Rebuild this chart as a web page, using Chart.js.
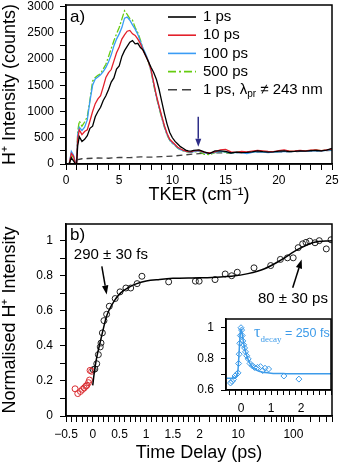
<!DOCTYPE html>
<html lang="en">
<head>
  <meta charset="UTF-8" />
  <title>H+ TKER spectra and time delay</title>
  <script src="https://cdn.jsdelivr.net/npm/chart.js@4.4.3/dist/chart.umd.min.js"></script>
  <style>
    body { margin: 0; background: #ffffff; }
    .wrap { position: relative; width: 340px; height: 465px; }
    canvas { position: absolute; }
    #topChart { left: 0; top: 0; }
    #botChart { left: 0; top: 206px; }
    #insetChart { left: 196px; top: 311px; }
  </style>
</head>
<body>
  <div class="wrap">
    <canvas id="topChart" width="340" height="206"></canvas>
    <canvas id="botChart" width="340" height="259"></canvas>
    <canvas id="insetChart" width="140" height="110"></canvas>
  </div>

  <script>
    // ---- panel a): H+ TKER spectra (counts)
    const tker = [0.3, 0.5, 0.7, 0.9, 1.0, 1.1, 1.25, 1.5, 1.75,
      2.0, 2.25, 2.5, 2.75, 3.0, 3.25, 3.5, 3.75, 4.0, 4.25, 4.5, 4.75, 5.0, 5.25, 5.5, 5.75,
      6.0, 6.25, 6.5, 6.75, 7.0, 7.25, 7.5, 7.75, 8.0, 8.25, 8.5, 8.75, 9.0, 9.25, 9.5, 9.75,
      10.0, 10.25, 10.5, 10.75, 11.0, 11.25, 11.5, 11.75, 12.0,
      12.5, 13, 13.5, 14, 14.5, 15, 15.5, 16, 16.5, 17, 17.5, 18, 18.5, 19, 19.5,
      20, 20.5, 21, 21.5, 22, 22.5, 23, 23.5, 24, 24.5, 25];

    const ps1 = [0, 120, 60, 0, 10, 350, 520, 430, 470,
      540, 680, 720, 900, 1000, 1080, 1210, 1300, 1420, 1560, 1640, 1810, 1870, 2050, 2160, 2240,
      2320, 2350, 2290, 2300, 2220, 2170, 2060, 1950, 1840, 1740, 1610, 1420, 1190, 960, 760, 600,
      500, 430, 380, 330, 300, 265, 250, 245, 260,
      270, 230, 200, 250, 250, 240, 210, 225, 215, 220, 230, 250, 235, 225, 230,
      245, 250, 235, 240, 250, 245, 255, 260, 250, 265, 300];

    const ps10 = [0, 200, 150, 0, 20, 480, 650, 560, 620,
      650, 820, 1000, 1150, 1240, 1300, 1470, 1650, 1740, 1800, 1960, 2120, 2230, 2380, 2460, 2530,
      2545, 2480, 2450, 2380, 2290, 2160, 2060, 1950, 1790, 1540, 1300, 1100, 910, 730, 580, 470,
      420, 370, 320, 290, 265, 245, 235, 230, 250,
      260, 220, 210, 230, 270, 280, 230, 220, 240, 230, 245, 260, 250, 240, 235,
      255, 270, 245, 250, 260, 250, 265, 270, 255, 270, 285];

    const ps100 = [0, 240, 170, 20, 40, 560, 700, 640, 700,
      840, 1200, 1500, 1620, 1660, 1700, 1760, 1840, 1950, 2080, 2250, 2380, 2480, 2600, 2780, 2800,
      2740, 2650, 2570, 2470, 2330, 2200, 2090, 1960, 1770, 1520, 1280, 1080, 890, 710, 560, 455,
      400, 355, 305, 275, 255, 240, 230, 220, 235,
      250, 210, 200, 220, 240, 230, 210, 220, 215, 200, 220, 235, 225, 215, 225,
      230, 240, 235, 240, 245, 240, 250, 255, 250, 260, 270];

    const ps500 = [0, 160, 120, 10, 60, 620, 820, 720, 800,
      900, 1220, 1580, 1650, 1690, 1720, 1810, 1900, 2050, 2200, 2350, 2480, 2600, 2760, 2920, 2850,
      2770, 2740, 2600, 2500, 2360, 2180, 2080, 1940, 1760, 1500, 1270, 1060, 880, 700, 550, 450,
      395, 350, 300, 270, 250, 235, 225, 220, 230,
      240, 185, 180, 215, 235, 220, 200, 225, 230, 215, 230, 240, 230, 220, 230,
      240, 250, 240, 245, 255, 245, 260, 265, 255, 265, 280];

    // 1 ps, probe off resonance
    const offTker = [1.0, 1.5, 2, 3, 4, 5, 6, 7, 8, 9, 10, 11, 12, 13, 14, 15, 16, 17, 18, 19, 20, 21, 22, 23, 24, 25];
    const offCounts = [80, 100, 105, 115, 110, 125, 120, 135, 130, 140, 150, 170, 190, 205, 210, 212, 215, 220, 225, 225, 230, 235, 240, 245, 250, 260];

    const tkerTicks = [0, 5, 10, 15, 20, 25];
    const countTicks = [0, 500, 1000, 1500, 2000, 2500, 3000];

    // ---- panel b): normalised H+ signal vs pump-probe delay (ps)
    const redDelay = [-0.33, -0.28, -0.23, -0.19, -0.16, -0.13, -0.11, -0.08, -0.06, -0.05, -0.02];
    const redSignal = [0.155, 0.128, 0.14, 0.152, 0.16, 0.17, 0.175, 0.19, 0.205, 0.26, 0.255];

    const blackDelay = [0.01, 0.04, 0.075, 0.105, 0.14, 0.155, 0.18, 0.21, 0.26, 0.31,
      0.42, 0.51, 0.62, 0.71, 0.83, 0.92, 1.42, 1.92, 1.99,
      3.8, 5.8, 7.6, 9.6, 19.3, 38.7, 58, 78, 99, 122, 147, 169, 197, 246, 294, 394, 480];
    const blackSignal = [0.264, 0.268, 0.298, 0.35, 0.394, 0.416, 0.474, 0.544, 0.58, 0.626,
      0.67, 0.708, 0.73, 0.73, 0.755, 0.797, 0.765, 0.769, 0.769,
      0.778, 0.81, 0.80, 0.82, 0.845, 0.858, 0.893, 0.902, 0.902, 0.96, 0.982, 0.99, 0.997, 0.988, 1.0, 0.953, 1.005];

    const fitDelay = [0.0, 0.03, 0.06, 0.1, 0.15, 0.2, 0.25, 0.3, 0.4, 0.5, 0.6, 0.7, 0.8, 1.0, 1.25, 1.5,
      2.0, 4, 7.5, 15, 30, 60, 120, 230, 500];
    const fitSignal = [0.175, 0.25, 0.31, 0.37, 0.435, 0.50, 0.56, 0.60, 0.655, 0.695, 0.72, 0.738, 0.752, 0.77, 0.779, 0.785,
      0.788, 0.792, 0.797, 0.812, 0.84, 0.89, 0.95, 0.99, 1.0];

    const normTicks = [0, 0.2, 0.4, 0.6, 0.8, 1];
    const normTickLabels = ['0', '0.2', '0.4', '0.6', '0.8', '1'];
    const delayTicks = [-0.5, 0, 0.5, 1, 1.5, 2, 10, 100];
    const delayTickLabels = ['\u22120.5', '0', '0.5', '1', '1.5', '2', '10', '100'];
    const delayLogMinor = [3, 4, 5, 6, 7, 8, 9, 20, 30, 40, 50, 60, 70, 80, 90, 200, 300, 400, 500];

    // ---- inset: early-time signal
    const insetDelay = [-0.35, -0.3, -0.25, -0.2, -0.15, -0.1, -0.08, -0.06, -0.04, -0.02, 0.0,
      0.02, 0.04, 0.06, 0.09, 0.12, 0.15, 0.19, 0.24, 0.3, 0.38, 0.45, 0.55, 0.65, 0.72, 0.8, 0.92, 1.43, 1.93];
    const insetSignal = [0.645, 0.655, 0.668, 0.69, 0.70, 0.71, 0.77, 0.83, 0.90, 0.95, 1.0,
      0.985, 0.95, 0.915, 0.89, 0.87, 0.845, 0.82, 0.80, 0.77, 0.755, 0.745, 0.745, 0.75, 0.725, 0.74, 0.735, 0.69, 0.67];
    const insetFitDelay = [-0.5, -0.3, -0.2, -0.15, -0.1, -0.07, -0.04, -0.01, 0.01, 0.04, 0.08, 0.13, 0.2, 0.3, 0.42, 0.6, 0.8, 1.0, 1.5, 2, 3];
    const insetFitSignal = [0.675, 0.676, 0.68, 0.69, 0.73, 0.82, 0.92, 0.985, 0.99, 0.96, 0.91, 0.86, 0.815, 0.77, 0.74, 0.72, 0.712, 0.708, 0.705, 0.704, 0.704];
    const insetDelayTicks = [0, 1, 2];
    const insetNormTicks = [0.6, 0.8, 1];
    const insetNormLabels = ['0.6', '0.8', '1'];

    // ---------------------------------------------------------------
    const FONT = "'Liberation Sans', Arial, Helvetica, sans-serif";
    const SERIF = "'Liberation Serif', 'Times New Roman', serif";
    Chart.defaults.font.family = FONT;
    Chart.defaults.font.size = 12;
    Chart.defaults.color = '#000';

    // delay axis: linear up to 2 ps, logarithmic after that
    const LIN_END = 2;
    const UNITS_PER_DECADE = 1.032;
    function toAxis(t) {
      return t <= LIN_END ? t : LIN_END + UNITS_PER_DECADE * Math.log10(t / LIN_END);
    }

    function pts(xs, ys, fx) {
      return xs.map((v, i) => ({ x: fx ? fx(v) : v, y: ys[i] }));
    }

    // minor tick positions + labelled ones
    function mergeTicks(minor, labeled, labels) {
      const out = minor.map(v => ({ value: v, text: '' }));
      labeled.forEach((v, i) => {
        const hit = out.find(t => Math.abs(t.value - v) < 1e-6);
        if (hit) hit.text = labels[i];
        else out.push({ value: v, text: labels[i] });
      });
      return out.sort((a, b) => a.value - b.value);
    }
    function range(from, to, step) {
      const out = [];
      const n = Math.round((to - from) / step);
      for (let i = 0; i <= n; i++) out.push(+(from + i * step).toFixed(6));
      return out;
    }

    function axis(opts) {
      const o = {
        type: 'linear',
        min: opts.min,
        max: opts.max,
        afterBuildTicks: a => { a.ticks = opts.ticks.map(t => ({ value: t.value, text: t.text })); },
        afterFit: a => {
          if (opts.width !== undefined) a.width = opts.width;
          if (opts.height !== undefined) a.height = opts.height;
          a.paddingTop = a.paddingBottom = a.paddingLeft = a.paddingRight = 0;
        },
        border: { display: true, color: '#000', width: 1.5 },
        grid: { drawOnChartArea: false, drawTicks: true, tickLength: opts.tickLength || 6, tickColor: '#000', tickWidth: 1 },
        ticks: {
          autoSkip: false, maxRotation: 0, padding: opts.padding,
          font: { size: 12 }, color: '#000',
          callback: (v, i, ticks) => ticks[i].text
        }
      };
      if (opts.title) {
        o.title = { display: true, text: opts.title, color: '#000', font: { size: 18, lineHeight: 1 }, padding: opts.titlePadding };
      }
      return o;
    }

    function drawArrow(ctx, x1, y1, x2, y2, color, lw, headLen, headHalf) {
      const ang = Math.atan2(y2 - y1, x2 - x1);
      const bx = x2 - headLen * Math.cos(ang);
      const by = y2 - headLen * Math.sin(ang);
      ctx.save();
      ctx.strokeStyle = color;
      ctx.fillStyle = color;
      ctx.lineWidth = lw;
      ctx.setLineDash([]);
      ctx.beginPath();
      ctx.moveTo(x1, y1);
      ctx.lineTo(bx, by);
      ctx.stroke();
      ctx.beginPath();
      ctx.moveTo(x2, y2);
      ctx.lineTo(bx + headHalf * Math.sin(ang), by - headHalf * Math.cos(ang));
      ctx.lineTo(bx - headHalf * Math.sin(ang), by + headHalf * Math.cos(ang));
      ctx.closePath();
      ctx.fill();
      ctx.restore();
    }

    function drawParts(ctx, parts, x, y) {
      parts.forEach(p => {
        ctx.font = p.font;
        ctx.fillText(p.t, x, y + (p.dy || 0));
        x += ctx.measureText(p.t).width;
      });
    }

    function frame(chart) {
      const { ctx, chartArea: a } = chart;
      ctx.save();
      ctx.strokeStyle = '#000';
      ctx.lineWidth = 1.5;
      ctx.strokeRect(a.left, a.top, a.right - a.left, a.bottom - a.top);
      ctx.restore();
    }

    // ---------------- panel a)
    const legendRows = [
      { color: '#000000', dash: [], parts: [{ t: '1 ps' }] },
      { color: '#e3202b', dash: [], parts: [{ t: '10 ps' }] },
      { color: '#3a9cf5', dash: [], parts: [{ t: '100 ps' }] },
      { color: '#66cc11', dash: [8, 3, 2, 3], parts: [{ t: '500 ps' }] },
      { color: '#404040', dash: [9, 5], parts: [{ t: '1 ps, \u03bb' }, { t: 'pr', small: true }, { t: ' \u2260 243 nm' }] }
    ];

    const topDecor = {
      id: 'topDecor',
      afterDatasetsDraw(chart) {
        const { ctx, chartArea: a, scales: { x, y } } = chart;
        frame(chart);
        ctx.save();
        ctx.fillStyle = '#000';
        ctx.textBaseline = 'middle';
        ctx.font = '17px ' + FONT;
        ctx.fillText('a)', a.left + 4, a.top + 12);

        // arrow at the slow-H+ feature
        drawArrow(ctx, x.getPixelForValue(12.43), y.getPixelForValue(900),
          x.getPixelForValue(12.43), y.getPixelForValue(330), '#2e2e88', 1.5, 8, 3);

        // legend
        legendRows.forEach((r, i) => {
          const cy = 17 + i * 18.2;
          ctx.save();
          ctx.strokeStyle = r.color;
          ctx.lineWidth = 1.6;
          ctx.setLineDash(r.dash);
          ctx.beginPath();
          ctx.moveTo(168, cy);
          ctx.lineTo(196, cy);
          ctx.stroke();
          ctx.restore();
          ctx.fillStyle = '#000';
          drawParts(ctx, r.parts.map(p => ({
            t: p.t,
            font: (p.small ? '10px ' : '15px ') + FONT,
            dy: p.small ? 4 : 0
          })), 203, cy);
        });
        ctx.restore();
      }
    };

    const lineDs = (label, data, color, dash) => ({
      label: label,
      data: data,
      borderColor: color,
      borderWidth: 1.3,
      borderDash: dash,
      pointRadius: 0,
      showLine: true,
      fill: false,
      tension: 0
    });

    new Chart(document.getElementById('topChart'), {
      type: 'scatter',
      data: {
        datasets: [
          lineDs('1 ps', pts(tker, ps1), '#000000', []),
          lineDs('10 ps', pts(tker, ps10), '#e3202b', []),
          lineDs('100 ps', pts(tker, ps100), '#3a9cf5', []),
          lineDs('500 ps', pts(tker, ps500), '#66cc11', [7, 2, 2, 2]),
          lineDs('1 ps, probe off', pts(offTker, offCounts), '#404040', [6, 4])
        ]
      },
      options: {
        responsive: false,
        animation: false,
        layout: { padding: { left: 0, right: 8, top: 5, bottom: 0 } },
        plugins: { legend: { display: false }, tooltip: { enabled: false } },
        scales: {
          x: axis({
            min: 0, max: 25, height: 42, padding: 3,
            ticks: mergeTicks(range(0, 25, 1), tkerTicks, tkerTicks.map(String)),
            title: 'TKER (cm\u207b\u00b9)', titlePadding: { top: 0, bottom: 2 }
          }),
          y: axis({
            min: 0, max: 3030, width: 66, padding: 6,
            ticks: mergeTicks(range(0, 3000, 250), countTicks, countTicks.map(String)),
            title: 'H\u207a Intensity (counts)', titlePadding: { top: 1, bottom: 0 }
          })
        }
      },
      plugins: [topDecor]
    });

    // ---------------- panel b)
    const botDecor = {
      id: 'botDecor',
      afterDatasetsDraw(chart) {
        const { ctx, chartArea: a, scales: { x, y } } = chart;
        frame(chart);
        ctx.save();
        ctx.fillStyle = '#000';
        ctx.textBaseline = 'middle';
        ctx.font = '17px ' + FONT;
        ctx.fillText('b)', a.left + 4, a.top + 11);

        ctx.font = '15px ' + FONT;
        ctx.textAlign = 'center';
        ctx.fillText('290 \u00b1 30 fs', x.getPixelForValue(toAxis(0.34)), y.getPixelForValue(0.921));
        ctx.fillText('80 \u00b1 30 ps', x.getPixelForValue(toAxis(98)), y.getPixelForValue(0.67));

        drawArrow(ctx, x.getPixelForValue(toAxis(0.17)), y.getPixelForValue(0.854),
          x.getPixelForValue(toAxis(0.261)), y.getPixelForValue(0.693), '#000', 1.5, 9, 3.2);
        drawArrow(ctx, x.getPixelForValue(toAxis(97)), y.getPixelForValue(0.731),
          x.getPixelForValue(toAxis(141)), y.getPixelForValue(0.893), '#000', 1.5, 9, 3.2);
        ctx.restore();
      }
    };

    const delayAxisTicks = mergeTicks(
      range(-0.5, 2, 0.1).concat(delayLogMinor.map(toAxis)),
      delayTicks.map(toAxis), delayTickLabels);

    new Chart(document.getElementById('botChart'), {
      type: 'scatter',
      data: {
        datasets: [
          {
            label: 'fit',
            data: pts(fitDelay, fitSignal, toAxis),
            showLine: true,
            borderColor: '#000',
            borderWidth: 1.5,
            pointRadius: 0,
            cubicInterpolationMode: 'monotone'
          },
          {
            label: 'negative delay',
            data: pts(redDelay, redSignal, toAxis),
            pointRadius: 3,
            pointBorderWidth: 1,
            borderColor: '#d92b30',
            backgroundColor: 'rgba(0,0,0,0)'
          },
          {
            label: 'signal',
            data: pts(blackDelay, blackSignal, toAxis),
            pointRadius: 3,
            pointBorderWidth: 1,
            borderColor: '#222',
            backgroundColor: 'rgba(0,0,0,0)'
          }
        ]
      },
      options: {
        responsive: false,
        animation: false,
        layout: { padding: { left: 0, right: 8, top: 18, bottom: 0 } },
        plugins: { legend: { display: false }, tooltip: { enabled: false } },
        scales: {
          x: axis({
            min: -0.5, max: toAxis(500), height: 49, padding: 5,
            ticks: delayAxisTicks,
            title: 'Time Delay (ps)', titlePadding: { top: 0, bottom: 3 }
          }),
          y: axis({
            min: 0, max: 1.095, width: 66, padding: 7,
            ticks: mergeTicks(range(0, 1, 0.1), normTicks, normTickLabels),
            title: 'Normalised H\u207a Intensity', titlePadding: { top: 1, bottom: 0 }
          })
        }
      },
      plugins: [botDecor]
    });

    // ---------------- inset
    const INSET_BLUE = '#3d9be9';
    const insetDecor = {
      id: 'insetDecor',
      beforeDraw(chart) {
        const { ctx, chartArea: a } = chart;
        ctx.save();
        ctx.fillStyle = '#fff';
        ctx.fillRect(a.left, a.top, a.right - a.left, a.bottom - a.top);
        ctx.restore();
      },
      afterDatasetsDraw(chart) {
        const { ctx, chartArea: a } = chart;
        frame(chart);
        ctx.save();
        ctx.fillStyle = INSET_BLUE;
        ctx.textBaseline = 'alphabetic';
        drawParts(ctx, [
          { t: '\u03c4', font: '16px ' + SERIF },
          { t: 'decay', font: '9px ' + SERIF, dy: 5 },
          { t: ' = 250 fs', font: '12.5px ' + FONT }
        ], a.left + 28, a.top + 18);
        ctx.restore();
      }
    };

    new Chart(document.getElementById('insetChart'), {
      type: 'scatter',
      data: {
        datasets: [
          {
            label: 'fit',
            data: pts(insetFitDelay, insetFitSignal),
            showLine: true,
            borderColor: INSET_BLUE,
            borderWidth: 1.5,
            pointRadius: 0,
            cubicInterpolationMode: 'monotone'
          },
          {
            label: 'early signal',
            data: pts(insetDelay, insetSignal),
            pointStyle: 'rectRot',
            pointRadius: 3,
            pointBorderWidth: 1,
            borderColor: INSET_BLUE,
            backgroundColor: 'rgba(0,0,0,0)'
          }
        ]
      },
      options: {
        responsive: false,
        animation: false,
        layout: { padding: { left: 0, right: 4, top: 8, bottom: 0 } },
        plugins: { legend: { display: false }, tooltip: { enabled: false } },
        scales: {
          x: axis({
            min: -0.5, max: 3, height: 31, padding: 6, tickLength: 5,
            ticks: mergeTicks(range(-0.4, 3, 0.2), insetDelayTicks, insetDelayTicks.map(String))
          }),
          y: axis({
            min: 0.6, max: 1.056, width: 30, padding: 7, tickLength: 5,
            ticks: mergeTicks(range(0.6, 1, 0.1), insetNormTicks, insetNormLabels)
          })
        }
      },
      plugins: [insetDecor]
    });
  </script>
</body>
</html>
